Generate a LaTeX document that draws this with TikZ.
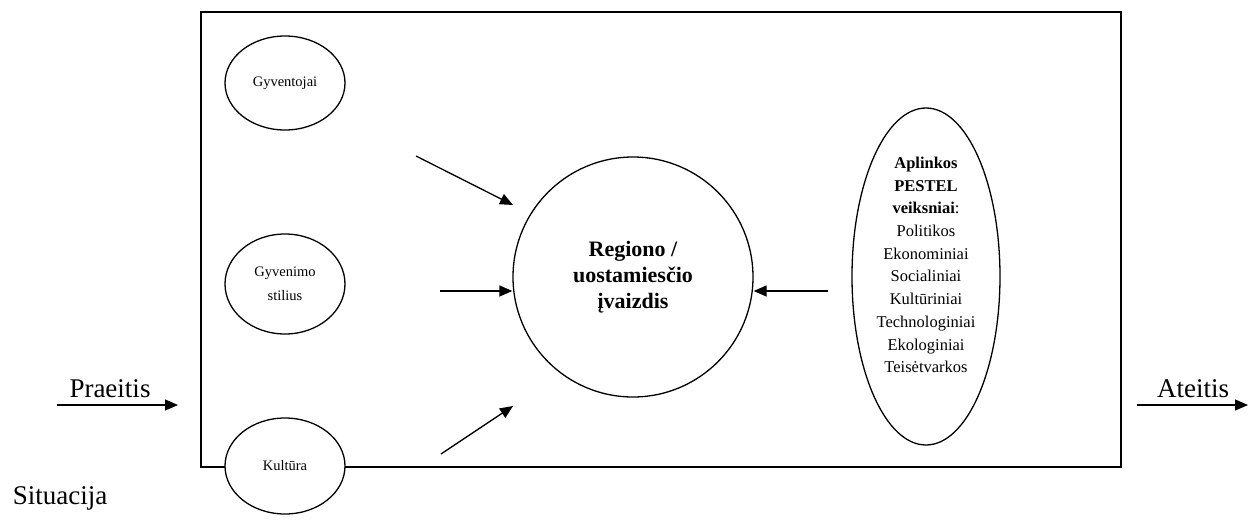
\documentclass[tikz,border=0pt]{standalone}
\usepackage{fontspec}
\setmainfont{Liberation Serif}
\usetikzlibrary{shapes.geometric,arrows.meta}
\tikzset{
  ln/.style={line width=1.3pt},
  arr/.style={ln,-{Triangle[length=13pt,width=11pt]}},
  oval/.style={ellipse,draw,ln,fill=white,inner sep=0pt,align=center},
  small/.style={font=\fontsize{14.5}{24}\selectfont},
  big/.style={font=\fontsize{27}{32}\selectfont,inner sep=0pt,anchor=base}
}
\begin{document}
\begin{tikzpicture}[x=1pt,y=-1pt]
\useasboundingbox (0,0) rectangle (1248,522);
\draw[ln] (201,12) rectangle (1121,467);
\node[oval,small,minimum width=120pt,minimum height=94pt] (gyv) at (285,83) {Gyventojai};
\node[oval,small,minimum width=120pt,minimum height=100pt] (stil) at (285,284) {Gyvenimo\\stilius};
\node[oval,small,minimum width=120pt,minimum height=96pt] (kult) at (285,466) {Kultūra};
\node[circle,draw,ln,minimum size=240pt,inner sep=0pt,align=center,font=\fontsize{22}{26}\selectfont\bfseries] (img) at (633,277) {Regiono /\\uostamiesčio\\įvaizdis};
\node[oval,minimum width=148pt,minimum height=337pt] (pest) at (926,276.5) {};
\node[align=center,inner sep=0pt,font=\fontsize{16.5}{22.7}\selectfont] (pestxt) at (926,265) {\textbf{Aplinkos}\\\textbf{PESTEL}\\\textbf{veiksniai}:\\Politikos\\Ekonominiai\\Socialiniai\\Kultūriniai\\Technologiniai\\Ekologiniai\\Teisėtvarkos};
\node[big] (praeitis) at (110,397) {Praeitis};
\node[big] (ateitis) at (1193,397) {Ateitis};
\node[big] (sit) at (60,504) {Situacija};
\coordinate (a1s) at (416,156); \coordinate (a1e) at (513,205);
\coordinate (a2s) at (440,291); \coordinate (a2e) at (img.west|-a2s);
\coordinate (a3s) at (441,454); \coordinate (a3e) at (513,406);
\coordinate (a4s) at (828,291); \coordinate (a4e) at (img.east|-a4s);
\coordinate (p1) at (57,405); \coordinate (p2) at (178,405);
\coordinate (f1) at (1137,405); \coordinate (f2) at (1248,405);
\draw[arr] (a1s) -- (a1e);
\draw[arr] (a2s) -- (a2e);
\draw[arr] (a3s) -- (a3e);
\draw[arr] (a4s) -- (a4e);
\draw[arr] (p1) -- (p2);
\draw[arr] (f1) -- (f2);
\end{tikzpicture}
\end{document}
